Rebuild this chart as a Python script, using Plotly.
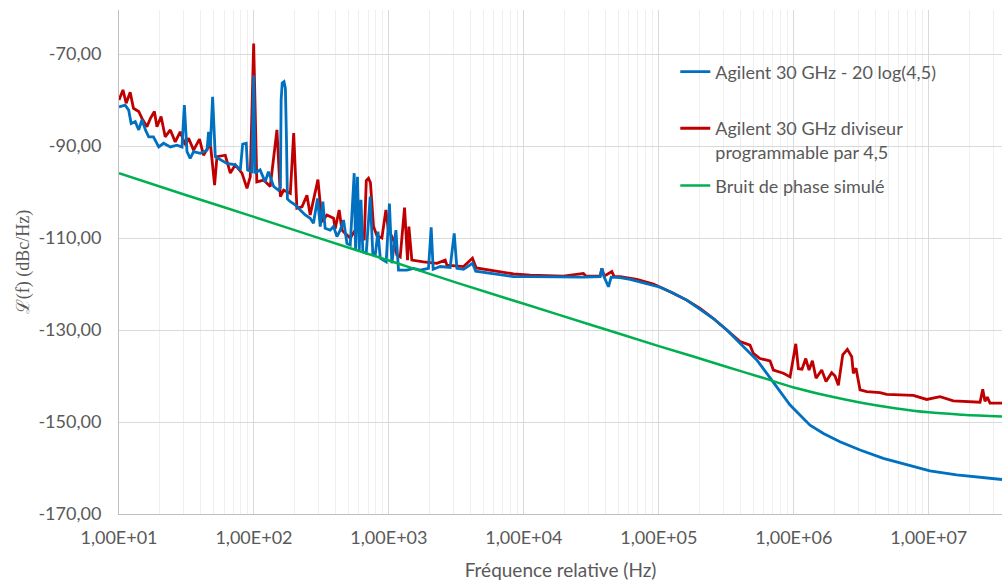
import plotly.graph_objects as go

# --- data ---
# Agilent 30 GHz - 20 log(4,5)  (blue)
blue_freq_hz = [
    10, 11.1, 11.8, 12.3, 13.2, 14.0, 14.8, 15.7, 16.6, 18.0, 19.7, 21.4, 24.0, 26.9,
    29.3, 30.5, 31.9, 33.7, 35.7, 40.0, 44.9, 46.1, 47.5, 49.4, 51.7, 56.3, 63.1, 72.7,
    79.2, 82.5, 87.7, 89.7, 96.6, 99.5, 102, 111, 121, 128, 140, 152, 157, 159, 162,
    167, 171, 174, 177, 186, 202, 220, 240, 261, 276, 296, 310, 324, 337, 367, 389,
    412, 436, 461, 489, 517, 553, 566, 585, 603, 621, 641, 679, 727, 760, 792, 830,
    863, 955, 1009, 1052, 1127, 1178, 1359, 1521, 1706, 1965, 2057, 2128, 2399, 2844,
    3047, 3190, 3573, 4159, 4400, 5164, 6310, 8375, 11140, 19650, 27630, 36730, 37840,
    39360, 42360, 44360, 51640, 61240, 81470, 102300, 128300, 161100, 202300, 253700,
    319100, 400000, 532000, 687000, 939000, 1320000, 1660000, 2200000, 3100000,
    4610000, 6870000, 10200000, 16100000, 24000000, 34900000,
]
blue_dbc = [
    -81.5, -81.1, -82.2, -85.1, -84.7, -86.5, -84.3, -86.5, -88.0, -88.0, -90.2, -89.4,
    -90.2, -89.8, -90.2, -81.1, -91.2, -92.7, -91.2, -91.6, -90.9, -86.9, -90.2, -79.3,
    -92.3, -93.0, -93.8, -94.1, -95.2, -89.6, -89.4, -95.2, -95.6, -74.6, -95.9, -95.2,
    -97.8, -95.6, -98.8, -99.6, -99.0, -80.0, -76.3, -76.0, -77.5, -88.0, -101.5,
    -102.1, -102.8, -103.9, -105.0, -105.7, -106.8, -101.4, -107.5, -102.1, -107.9,
    -108.3, -107.5, -109.7, -108.3, -106.1, -111.2, -111.5, -95.9, -112.6, -96.7,
    -112.6, -101.7, -113.0, -113.3, -101.0, -113.5, -113.7, -108.6, -114.4, -115.2,
    -102.5, -115.5, -108.3, -117.0, -117.0, -116.6, -117.0, -116.6, -107.7, -116.8,
    -116.2, -116.4, -109.0, -116.6, -116.8, -115.5, -117.2, -117.5, -118.0, -118.4,
    -118.4, -118.5, -118.5, -118.4, -116.6, -118.5, -120.6, -118.5, -118.6, -119.0,
    -119.9, -120.7, -122.0, -123.5, -125.5, -127.5, -130.0, -132.9, -136.5, -140.9,
    -146.3, -150.7, -152.5, -154.3, -156.1, -157.9, -159.3, -160.6, -161.5, -162.0,
    -162.5,
]

# Agilent 30 GHz diviseur programmable par 4,5  (red)
red_freq_hz = [
    10, 10.7, 11.3, 12.1, 12.8, 14.0, 14.8, 16.1, 17.1, 18.3, 19.1, 20.5, 22.0, 24.0,
    26.1, 28.4, 31.0, 32.8, 35.7, 39.5, 42.3, 47.5, 51.1, 53.2, 61.3, 66.8, 72.7, 81.5,
    88.8, 93.9, 99.5, 105, 118, 132, 148, 157, 166, 186, 197, 208, 227, 247, 261, 298,
    319, 347, 389, 400, 428, 449, 474, 517, 562, 612, 656, 680, 706, 730, 769, 815,
    887, 950, 988, 1082, 1146, 1213, 1306, 1374, 1406, 1479, 1803, 2270, 2613, 2690,
    3573, 4159, 4436, 5164, 6310, 8375, 11140, 19650, 27630, 28900, 36730, 37840,
    39360, 44870, 46670, 51640, 68700, 91200, 121300, 161100, 202300, 253700, 319100,
    400000, 474000, 502000, 562000, 667000, 706000, 838000, 939000, 1035000, 1082000,
    1151000, 1227000, 1298000, 1374000, 1463000, 1611000, 1734000, 1911000, 2022000,
    2140000, 2306000, 2495000, 2690000, 2763000, 2892000, 3097000, 3473000, 4359000,
    4883000, 6125000, 7690000, 9660000, 12130000, 15210000, 20230000, 24000000,
    25130000, 26100000, 27170000, 28460000, 34900000,
]
red_dbc = [
    -80.0, -77.8, -80.7, -78.3, -81.8, -82.5, -84.0, -85.8, -84.0, -82.5, -85.8, -83.6,
    -88.0, -86.5, -89.1, -86.9, -89.8, -88.3, -90.9, -88.5, -92.0, -89.4, -98.5, -92.3,
    -92.0, -95.9, -94.1, -95.9, -99.2, -96.7, -67.7, -97.8, -97.4, -98.8, -86.5, -101.0,
    -99.6, -100.3, -87.2, -103.5, -103.2, -100.7, -105.0, -97.3, -106.5, -105.0,
    -105.7, -108.0, -103.9, -108.3, -109.0, -110.0, -108.3, -107.5, -110.5, -97.5,
    -97.0, -98.0, -107.5, -109.5, -110.0, -103.9, -108.0, -110.5, -113.7, -114.1,
    -103.4, -114.8, -107.5, -114.8, -115.2, -115.5, -114.8, -115.9, -116.2, -114.4,
    -116.5, -116.8, -117.3, -117.8, -118.1, -118.3, -117.7, -118.3, -118.3, -116.6,
    -118.3, -117.3, -118.4, -118.4, -119.0, -120.0, -121.7, -123.5, -125.3, -127.5,
    -130.0, -132.5, -133.3, -135.1, -136.2, -136.7, -138.7, -139.4, -140.2, -133.0,
    -138.4, -138.5, -136.2, -138.7, -136.7, -140.5, -138.7, -141.2, -139.3, -140.0,
    -142.0, -135.4, -134.2, -135.8, -139.4, -138.3, -143.0, -143.4, -143.6, -144.0,
    -144.1, -144.2, -145.1, -144.5, -145.4, -145.6, -145.7, -142.9, -145.5, -144.6,
    -145.9, -145.9,
]

# Bruit de phase simulé  (green)
sim_freq_hz = [
    10, 31.6, 100, 316, 1000, 3162, 10000, 31623, 100000, 177828, 316228, 562341,
    1000000, 1778279, 3162278, 5623413, 10000000, 17782794, 34900000,
]
sim_dbc = [
    -95.9, -100.7, -105.4, -110.2, -114.9, -119.7, -124.3, -128.9, -133.5, -135.7,
    -138.0, -140.2, -142.5, -144.3, -145.8, -147.0, -147.9, -148.4, -148.8,
]

x_tick_vals = [1e1, 1e2, 1e3, 1e4, 1e5, 1e6, 1e7]
x_tick_labels = ["1,00E+01", "1,00E+02", "1,00E+03", "1,00E+04", "1,00E+05",
                 "1,00E+06", "1,00E+07"]
y_tick_vals = [-170, -150, -130, -110, -90, -70]
y_tick_labels = ["-170,00", "-150,00", "-130,00", "-110,00", "-90,00", "-70,00"]

TEXT_COLOR = "#595959"
FONT = "Lato"

fig = go.Figure()

# red first so that the blue trace sits on top of it, like in the original
fig.add_trace(go.Scatter(
    x=red_freq_hz, y=red_dbc, mode="lines", legend="legend2",
    name="Agilent 30 GHz diviseur<br>programmable par 4,5",
    line=dict(color="#C00000", width=2.8),
))
fig.add_trace(go.Scatter(
    x=blue_freq_hz, y=blue_dbc, mode="lines", legend="legend",
    name="Agilent 30 GHz - 20 log(4,5)",
    line=dict(color="#0070C0", width=2.8),
))
fig.add_trace(go.Scatter(
    x=sim_freq_hz, y=sim_dbc, mode="lines", legend="legend3",
    name="Bruit de phase simulé",
    line=dict(color="#00B050", width=2.5, shape="spline"),
))

legend_style = dict(
    x=0.630, xanchor="left", yanchor="middle",
    bgcolor="rgba(0,0,0,0)",
    font=dict(family=FONT, size=18, color=TEXT_COLOR),
)

# minor gridlines at 2..9 of every decade
minor_vals = [m * 10 ** e for e in range(1, 8) for m in range(2, 10)]

fig.update_layout(
    width=1002,
    height=582,
    margin=dict(l=119, r=0, t=10, b=68),
    paper_bgcolor="white",
    plot_bgcolor="white",
    font=dict(family=FONT, size=18, color=TEXT_COLOR),
    showlegend=True,
    legend=dict(legend_style, y=0.877),
    legend2=dict(legend_style, y=0.742, valign="top"),
    legend3=dict(legend_style, y=0.651),
    xaxis=dict(
        type="log",
        range=[1, 7.543],
        tickmode="array",
        tickvals=x_tick_vals,
        ticktext=x_tick_labels,
        ticks="",
        ticklabelstandoff=7,
        showgrid=True,
        gridcolor="#d9d9d9",
        gridwidth=1,
        minor=dict(tickmode="array", tickvals=minor_vals, showgrid=True,
                   gridcolor="#efefef", gridwidth=1, ticks=""),
        showline=True,
        linecolor="#bfbfbf",
        linewidth=1,
        zeroline=False,
        title=dict(text="Fréquence relative (Hz)", standoff=17,
                   font=dict(family=FONT, size=19, color=TEXT_COLOR)),
        automargin=False,
    ),
    yaxis=dict(
        range=[-170, -60.43],
        tickmode="array",
        tickvals=y_tick_vals,
        ticktext=y_tick_labels,
        ticks="",
        ticklabelstandoff=13,
        showgrid=True,
        gridcolor="#d9d9d9",
        gridwidth=1,
        showline=True,
        linecolor="#bfbfbf",
        linewidth=1,
        zeroline=False,
        title=dict(text="ℒ(f) (dBc/Hz)", standoff=4,
                   font=dict(family="Liberation Serif", size=18, color=TEXT_COLOR)),
        automargin=False,
    ),
)

# the page body has a default 8px margin; drop it so the figure fills the window
fig.write_html(
    "out.html",
    config={"displayModeBar": False},
    post_script="document.body.style.margin='0';document.body.style.overflow='hidden';",
)
